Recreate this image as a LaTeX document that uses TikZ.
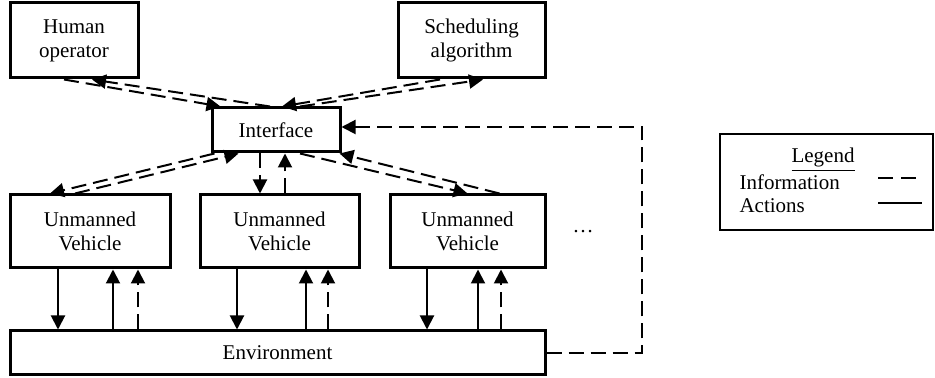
\documentclass[tikz,border=0pt]{standalone}
\usepackage{fontspec}
\setmainfont{Liberation Serif}
\usetikzlibrary{arrows.meta,calc,positioning}

\begin{document}
\begin{tikzpicture}[x = 0.5pt, y = -0.5pt, font = \fontsize{10.5}{12}\selectfont,
	info/.style = {line width = 1pt, dash pattern = on 7.5pt off 3.5pt, -{Triangle[length = 7pt, width = 7pt]}},
	act/.style = {line width = 1pt, -{Triangle[length = 7pt, width = 7pt]}}]
	\tikzstyle{every node} = [rectangle, draw = black, line width = 1.5pt, align = center]
\useasboundingbox (0,0) rectangle (935,378);
\node[minimum width = 64pt, minimum height = 37.5pt] (0) at (74, 40.5) {Human\\operator};
\node[minimum width = 73.5pt, minimum height = 37.5pt] (1) at (471.5, 40.5) {Scheduling\\algorithm};
\node[minimum width = 64pt, minimum height = 22pt] (2) at (276, 130) {Interface};
\node[minimum width = 80pt, minimum height = 36.5pt] (3) at (90, 231.5) {Unmanned\\Vehicle};
\node[minimum width = 79.5pt, minimum height = 36.5pt] (4) at (279.5, 231.5) {Unmanned\\Vehicle};
\node[minimum width = 77.5pt, minimum height = 36.5pt] (5) at (467.5, 231.5) {Unmanned\\Vehicle};
\node[minimum width = 267.5pt, minimum height = 22pt] (6) at (277.5, 353) {Environment};
\node[draw = none] (7) at (583, 232) {\dots};
	% operator and algorithm <-> interface
	\path[draw, info] ([xshift = -5pt]0.south) -- ([xshift = 5pt]2.north west);
	\path[draw, info] ([xshift = -3pt]2.north) -- ([xshift = 9pt]0.south);
	\path[draw, info] ([xshift = 12pt]2.north) -- ([xshift = 5.75pt]1.south);
	\path[draw, info] ([xshift = -15.75pt]1.south) -- ([xshift = 3pt]2.north);
	% interface <-> vehicles
	\path[draw, info] ([xshift = 2pt]2.south west) -- ([xshift = -20pt]3.north);
	\path[draw, info] ([xshift = -7.5pt]3.north) -- ([xshift = 14pt]2.south west);
	\path[draw, info] ([xshift = -8pt]2.south) -- ([xshift = -8pt]2.south |- 4.north);
	\path[draw, info] ([xshift = 4.5pt]2.south |- 4.north) -- ([xshift = 4.5pt]2.south);
	\path[draw, info] ([xshift = 12pt]2.south) -- (5.north);
	\path[draw, info] ([xshift = 16pt]5.north) -- ([xshift = -1pt]2.south east);
	% vehicles <-> environment
	\path[draw, act] ([xshift = -16pt]3.south) -- ([xshift = -16pt]3.south |- 6.north);
	\path[draw, act] ([xshift = 11.5pt]3.south |- 6.north) -- ([xshift = 11.5pt]3.south);
	\path[draw, info] ([xshift = 24pt]3.south |- 6.north) -- ([xshift = 24pt]3.south);
	\path[draw, act] ([xshift = -21.25pt]4.south) -- ([xshift = -21.25pt]4.south |- 6.north);
	\path[draw, act] ([xshift = 13.25pt]4.south |- 6.north) -- ([xshift = 13.25pt]4.south);
	\path[draw, info] ([xshift = 24.25pt]4.south |- 6.north) -- ([xshift = 24.25pt]4.south);
	\path[draw, act] ([xshift = -20.25pt]5.south) -- ([xshift = -20.25pt]5.south |- 6.north);
	\path[draw, act] ([xshift = 5.25pt]5.south |- 6.north) -- ([xshift = 5.25pt]5.south);
	\path[draw, info] ([xshift = 16.75pt]5.south |- 6.north) -- ([xshift = 16.75pt]5.south);
	% environment back to interface
\coordinate (8) at (642, 127);
	\path[draw, info] (6.east) -| (8) -- ([yshift = 1.5pt]2.east);
	% legend
\node[line width = 1pt, minimum width = 106.5pt, minimum height = 48pt] (9) at (826.5, 182) {};
\node[draw = none, anchor = base] (10) at (823, 163) {\underline{Legend}};
\node[draw = none, anchor = base west, inner sep = 0pt] (11) at (738, 190) {Information};
\node[draw = none, anchor = base west, inner sep = 0pt] (12) at (738, 213) {Actions};
\coordinate (13) at (878, 178);
\coordinate (14) at (916, 178);
\coordinate (15) at (878, 203);
\coordinate (16) at (922, 203);
	\path[draw, line width = 1pt, dash pattern = on 7.5pt off 4pt] (13) -- (14);
	\path[draw, line width = 1pt] (15) -- (16);
	\end{tikzpicture}
\end{document}
